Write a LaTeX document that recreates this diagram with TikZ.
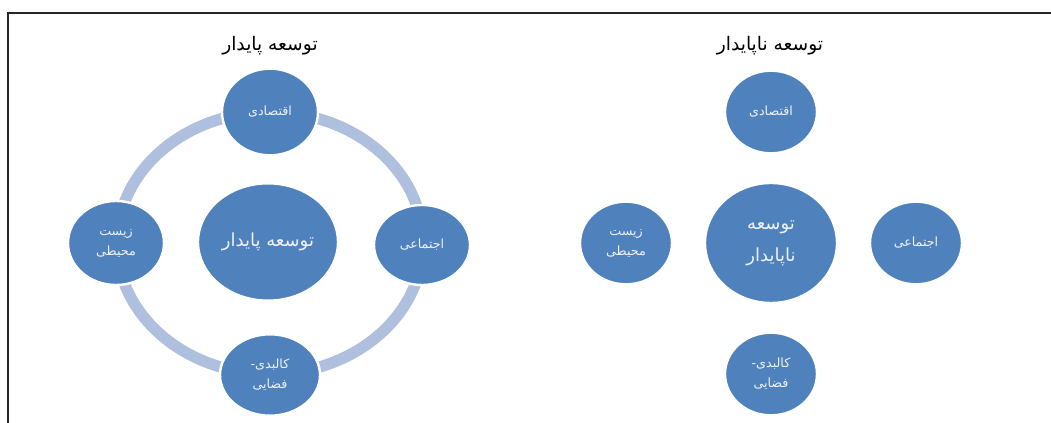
\documentclass[tikz,border=0pt]{standalone}
\usepackage{fontspec}
\newfontfamily\fa[Script=Arabic]{DejaVu Sans}
\TeXXeTstate=1
\usetikzlibrary{shapes.geometric}
\definecolor{bubble}{HTML}{4F81BD}
\definecolor{ringc}{HTML}{AEC0DD}
\definecolor{txt}{HTML}{EEF2F8}
\tikzset{
  bub/.style={ellipse, fill=bubble, draw=white, line width=1.8pt, text=txt,
    font=\fa\fontsize{9.5}{15}\selectfont, align=center, inner sep=0pt,
    minimum width=72pt, minimum height=63pt},
  bigbub/.style={bub, font=\fa\fontsize{13.5}{20}\selectfont},
  ttl/.style={font=\fa\fontsize{14}{17}\selectfont, text=black, inner sep=0pt},
  ring/.style={draw=ringc, line width=8.5pt},
  frame/.style={draw=black!85, line width=1.5pt}
}
\begin{document}
\begin{tikzpicture}[x=0.75pt,y=-0.75pt]
\useasboundingbox (0,0) rectangle (1051,423);
\coordinate (f1) at (1051,13);
\coordinate (f2) at (8,13);
\coordinate (f3) at (8,423);
\draw[frame] (f1) -- (f2) -- (f3);
% left diagram
\node[ttl] (t1) at (270,46) {\beginR توسعه پایدار\endR};
\draw[ring] (270,243) ellipse [x radius=153, y radius=131];
\node[bigbub, minimum width=105pt, minimum height=88pt] (lc) at (268,242) {\beginR توسعه پایدار\endR};
\node[bub, minimum height=65pt] (lt) at (270,112) {\beginR اقتصادی\endR};
\node[bub] (ll) at (116,243) {\beginR زیست\endR\\\beginR محیطی\endR};
\node[bub, minimum height=60pt] (lr) at (422,245) {\beginR اجتماعی\endR};
\node[bub, minimum width=75pt, minimum height=61pt] (lb) at (270,375) {\beginR کالبدی-\endR\\\beginR فضایی\endR};
% right diagram
\node[ttl] (t2) at (770,46) {\beginR توسعه ناپایدار\endR};
\node[bigbub, minimum width=99pt, minimum height=90pt, font=\fa\fontsize{13.5}{24}\selectfont] (rc) at (771,243) {\beginR توسعه\endR\\\beginR ناپایدار\endR};
\node[bub, minimum width=69pt, minimum height=62pt] (rt) at (771,112) {\beginR اقتصادی\endR};
\node[bub, minimum width=69pt, minimum height=62pt] (rl) at (626,243) {\beginR زیست\endR\\\beginR محیطی\endR};
\node[bub, minimum width=69pt, minimum height=62pt] (rr) at (916,243) {\beginR اجتماعی\endR};
\node[bub, minimum width=69pt, minimum height=62pt] (rb) at (771,374) {\beginR کالبدی-\endR\\\beginR فضایی\endR};
\end{tikzpicture}
\end{document}
